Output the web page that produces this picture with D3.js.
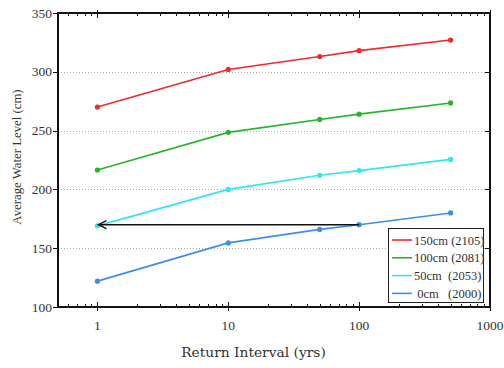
<!DOCTYPE html>
<html>
<head>
<meta charset="utf-8">
<script src="https://cdn.jsdelivr.net/npm/d3@7"></script>
<style>
  html, body { margin: 0; padding: 0; background: #fff; }
  svg { display: block; }
  text { font-family: "Liberation Serif", "DejaVu Serif", serif; fill: #333; }
</style>
</head>
<body>
<svg id="chart" width="504" height="368"></svg>
<script>
// Return intervals (years) on the x axis
const returnIntervals = [1, 10, 50, 100, 500];

// Series: sea-level rise scenario and the year it is reached
const seriesNames = ["150cm (2105)", "100cm (2081)", "50cm  (2053)", " 0cm   (2000)"];
const seriesColors = ["#ee2a2a", "#27b427", "#2ee6f4", "#3d8fe6"];

// Average water level (cm) per return interval
const level150 = [270, 302, 313, 318, 327];
const level100 = [216.5, 248.5, 259.5, 264, 273.5];
const level50 = [169, 200, 212, 216, 225.5];
const level0 = [122, 154.5, 166, 170, 180];

const yTicks = [100, 150, 200, 250, 300, 350];
const xTickLabels = [1, 10, 100, 1000];
const gridValues = [150, 200, 250, 300];

// Arrow: current 100-yr level reached by the 1-yr level of the 50cm scenario
const arrowFrom = { x: 100, y: 170 };
const arrowTo = { x: 1, y: 170 };

const allSeries = [level150, level100, level50, level0];

(function draw() {
  const svg = d3.select("#chart");
  const left = 58, right = 490, plotTop = 13, plotBottom = 307;

  const x = d3.scaleLog().domain([0.5, 1000]).range([left, right]);
  const y = d3.scaleLinear().domain([100, 350]).range([plotBottom, plotTop]);

  // Dotted gridlines
  svg.append("g").selectAll("line").data(gridValues).join("line")
    .attr("x1", left).attr("x2", right)
    .attr("y1", d => Math.round(y(d)) + 0.5).attr("y2", d => Math.round(y(d)) + 0.5)
    .attr("stroke", "#aaa").attr("stroke-width", 1)
    .attr("stroke-dasharray", "1,2");

  // Minor/major log ticks
  const minorTicks = [];
  for (let dec = 0.1; dec < 1000; dec *= 10) {
    for (let k = 1; k < 10; k++) {
      const v = +(dec * k).toPrecision(3);
      if (v >= 0.5 && v <= 1000) minorTicks.push(v);
    }
  }
  minorTicks.push(1000);
  const isMajor = v => xTickLabels.includes(v);

  const tickG = svg.append("g").attr("stroke", "#111").attr("stroke-width", 1);
  // bottom axis ticks (inward, majors crossing)
  tickG.selectAll(".tb").data(minorTicks).join("line")
    .attr("x1", d => Math.round(x(d)) + 0.5).attr("x2", d => Math.round(x(d)) + 0.5)
    .attr("y1", d => isMajor(d) ? plotBottom + 4 : plotBottom)
    .attr("y2", d => isMajor(d) ? plotBottom - 5 : plotBottom - 3);
  // top axis ticks
  tickG.selectAll(".tt").data(minorTicks).join("line")
    .attr("x1", d => Math.round(x(d)) + 0.5).attr("x2", d => Math.round(x(d)) + 0.5)
    .attr("y1", d => isMajor(d) ? plotTop - 3 : plotTop)
    .attr("y2", d => isMajor(d) ? plotTop + 5 : plotTop + 3);
  // left axis ticks (outward)
  tickG.selectAll(".tl").data(yTicks).join("line")
    .attr("x1", left - 5).attr("x2", left)
    .attr("y1", d => Math.round(y(d)) + 0.5).attr("y2", d => Math.round(y(d)) + 0.5);
  // right axis ticks (inward)
  tickG.selectAll(".tr").data(yTicks).join("line")
    .attr("x1", right - 5).attr("x2", right)
    .attr("y1", d => Math.round(y(d)) + 0.5).attr("y2", d => Math.round(y(d)) + 0.5);

  // Frame
  svg.append("rect")
    .attr("x", left).attr("y", plotTop)
    .attr("width", right - left).attr("height", plotBottom - plotTop)
    .attr("fill", "none").attr("stroke", "#111").attr("stroke-width", 2);

  // Tick labels
  svg.append("g").selectAll("text").data(yTicks).join("text")
    .attr("x", left - 6).attr("y", d => y(d) + 4.5)
    .attr("text-anchor", "end").attr("font-size", 13.5)
    .text(d => d);
  svg.append("g").selectAll("text").data(xTickLabels).join("text")
    .attr("x", d => x(d)).attr("y", plotBottom + 23)
    .attr("text-anchor", "middle").attr("font-size", 13.5)
    .text(d => d);

  // Axis titles
  svg.append("text")
    .attr("x", 253.5).attr("y", 357)
    .attr("text-anchor", "middle").attr("font-size", 13.8)
    .style("font-family", "'DejaVu Serif', serif")
    .text("Return Interval (yrs)");
  svg.append("text")
    .attr("transform", "translate(21,157) rotate(-90)")
    .attr("text-anchor", "middle").attr("font-size", 12.8)
    .text("Average Water Level (cm)");

  // Series lines and points
  const line = d3.line().x((d, i) => x(returnIntervals[i])).y(d => y(d));
  allSeries.forEach((vals, s) => {
    const g = svg.append("g");
    g.append("path").datum(vals)
      .attr("d", line).attr("fill", "none")
      .attr("stroke", seriesColors[s]).attr("stroke-width", 1.6);
    g.selectAll("circle").data(vals).join("circle")
      .attr("cx", (d, i) => x(returnIntervals[i])).attr("cy", d => y(d))
      .attr("r", 2.6).attr("fill", seriesColors[s]);
  });

  // Arrow
  const ax0 = x(arrowFrom.x), ax1 = x(arrowTo.x) + 1, ay = y(arrowFrom.y);
  svg.append("line")
    .attr("x1", ax0).attr("x2", ax1).attr("y1", ay).attr("y2", ay)
    .attr("stroke", "#111").attr("stroke-width", 1.4);
  svg.append("path")
    .attr("d", `M${ax1 + 8},${ay - 4} L${ax1},${ay} L${ax1 + 8},${ay + 4}`)
    .attr("fill", "none").attr("stroke", "#111").attr("stroke-width", 1.4);

  // Legend
  const lg = svg.append("g");
  lg.append("rect")
    .attr("x", 388.5).attr("y", 228.5).attr("width", 95).attr("height", 74)
    .attr("fill", "#fff").attr("stroke", "#222").attr("stroke-width", 1);
  seriesNames.forEach((name, i) => {
    const ly = 240 + i * 17.8;
    lg.append("line")
      .attr("x1", 392).attr("x2", 412).attr("y1", ly).attr("y2", ly)
      .attr("stroke", seriesColors[i]).attr("stroke-width", 1.6);
    lg.append("text")
      .attr("x", 414).attr("y", ly + 4.5)
      .attr("font-size", 12.5)
      .style("white-space", "pre")
      .text(name);
  });
})();
</script>
</body>
</html>
